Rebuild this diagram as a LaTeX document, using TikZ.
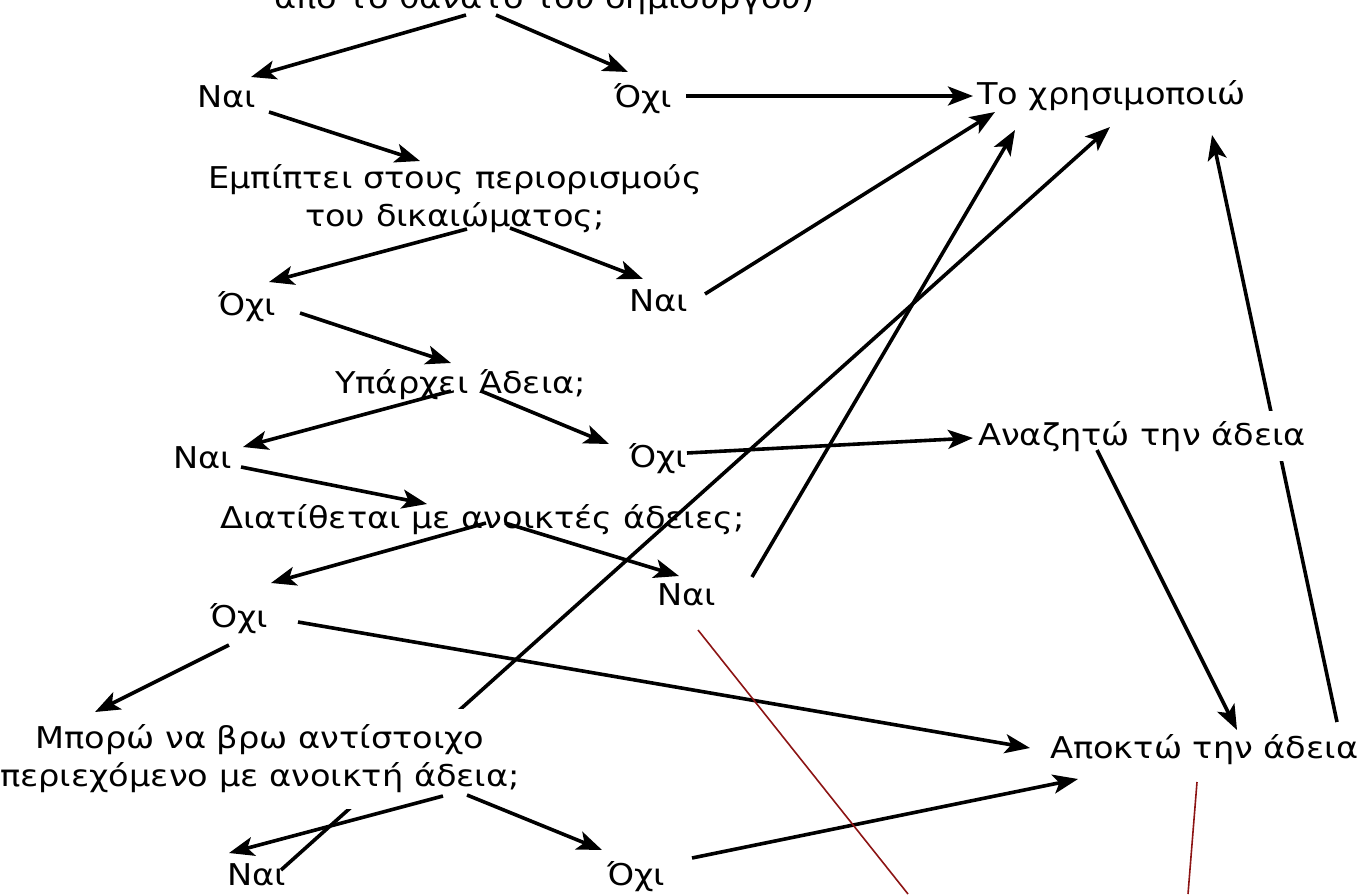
\documentclass[tikz,border=0pt]{standalone}
\usepackage{fontspec}
\setmainfont{DejaVu Sans}[FakeStretch=1.12]
\usetikzlibrary{arrows.meta,calc,backgrounds}
\newcommand{\twolines}[2]{\begin{tabular}[t]{@{}c@{}}#1\\#2\end{tabular}}
\begin{document}
\begin{tikzpicture}[x=1pt,y=-1pt,
  lbl/.style={inner sep=0pt,font=\fontsize{30}{38}\selectfont},
  arr/.style={line width=3.6pt,-{Stealth[length=25pt,width=19pt,inset=6pt]}},
  redline/.style={line width=1.6pt,draw={rgb,255:red,140;green,20;blue,20}}]
\useasboundingbox (0,0) rectangle (1362,894);
% nodes
\node[lbl,anchor=base west] (q0) at (274,9) {από το θάνατο του δημιουργού)};
\node[lbl,anchor=base west] (n1) at (197,107) {Ναι};
\node[lbl,anchor=base west] (o1) at (614,107) {Όχι};
\node[lbl,anchor=base west] (use) at (977,104) {Το χρησιμοποιώ};
\node[lbl,anchor=base] (q1) at (455,188) {\twolines{Εμπίπτει στους περιορισμούς}{του δικαιώματος;}};
\node[lbl,anchor=base west] (o2) at (218,315) {Όχι};
\node[lbl,anchor=base west] (n2) at (629,311) {Ναι};
\node[lbl,anchor=base west] (q2) at (335,393) {Υπάρχει Άδεια;};
\node[lbl,anchor=base west] (n3) at (173,468) {Ναι};
\node[lbl,anchor=base west] (o3) at (629,467) {Όχι};
\node[lbl,anchor=base west,fill=white,inner xsep=1pt,inner ysep=10pt] (seek) at (977,445) {Αναζητώ την άδεια};
\node[lbl,anchor=base west] (q3) at (220,528) {Διατίθεται με ανοικτές άδειες;};
\node[lbl,anchor=base west] (o4) at (210,627) {Όχι};
\node[lbl,anchor=base west] (n4) at (657,605) {Ναι};
\node[lbl,anchor=base,fill=white,inner xsep=3pt,inner ysep=12pt] (q4) at (260,748) {\twolines{Μπορώ να βρω αντίστοιχο}{περιεχόμενο με ανοικτή άδεια;}};
\node[lbl,anchor=base west] (get) at (1050,758) {Αποκτώ την άδεια};
\node[lbl,anchor=base west] (n5) at (227,885) {Ναι};
\node[lbl,anchor=base west] (o5) at (607,885) {Όχι};
% lines passing behind text
\begin{pgfonlayer}{background}
\draw[arr] ($(n5.base west)+(54,-15)$) -- ($(use.base west)+(133,23)$);
\draw[arr] ($(get.base west)+(287,-36)$) -- ($(use.base west)+(235,31)$);
\end{pgfonlayer}
% connectors
\draw[arr] ($(q0.base west)+(192,6)$) -- ($(n1.base west)+(54,-30)$);
\draw[arr] ($(q0.base west)+(222,6)$) -- ($(o1.base west)+(14,-35)$);
\draw[arr] ($(o1.base west)+(72,-11)$) -- ($(use.base west)+(-4,-8)$);
\draw[arr] ($(n1.base west)+(72,5)$) -- ($(q1.base)+(-35,-27)$);
\draw[arr] ($(q1.base)+(12,41)$) -- ($(o2.base west)+(51,-33)$);
\draw[arr] ($(q1.base)+(55,40)$) -- ($(n2.base west)+(14,-32)$);
\draw[arr] ($(n2.base west)+(76,-17)$) -- ($(use.base west)+(18,8)$);
\draw[arr] ($(o2.base west)+(82,-2)$) -- ($(q2.base west)+(116,-30)$);
\draw[arr] ($(q2.base west)+(116,-2)$) -- ($(n3.base west)+(70,-21)$);
\draw[arr] ($(q2.base west)+(146,-2)$) -- ($(o3.base west)+(-20,-23)$);
\draw[arr] ($(o3.base west)+(58,-14)$) -- ($(seek.base west)+(-4,-7)$);
\draw[arr] ($(n3.base west)+(68,-1)$) -- ($(q3.base west)+(207,-24)$);
\draw[arr] ($(q3.base west)+(266,-5)$) -- ($(o4.base west)+(61,-44)$);
\draw[arr] ($(q3.base west)+(285,-5)$) -- ($(n4.base west)+(22,-29)$);
\draw[arr] ($(n4.base west)+(95,-28)$) -- ($(use.base west)+(38,26)$);
\draw[arr] ($(o4.base west)+(88,-5)$) -- ($(get.base west)+(-20,-10)$);
\draw[arr] ($(o4.base west)+(19,18)$) -- ($(q4.base)+(-165,-36)$);
\draw[arr] ($(q4.base)+(183,48)$) -- ($(n5.base west)+(2,-32)$);
\draw[arr] ($(q4.base)+(207,47)$) -- ($(o5.base west)+(-5,-35)$);
\draw[arr] ($(o5.base west)+(85,-27)$) -- ($(get.base west)+(28,21)$);
\draw[arr] ($(seek.base west)+(120,5)$) -- ($(get.base west)+(187,-28)$);
% red annotation lines
\draw[redline] (698,630) -- (908,894);
\draw[redline] (1197,782) -- (1188,894);
\end{tikzpicture}
\end{document}
